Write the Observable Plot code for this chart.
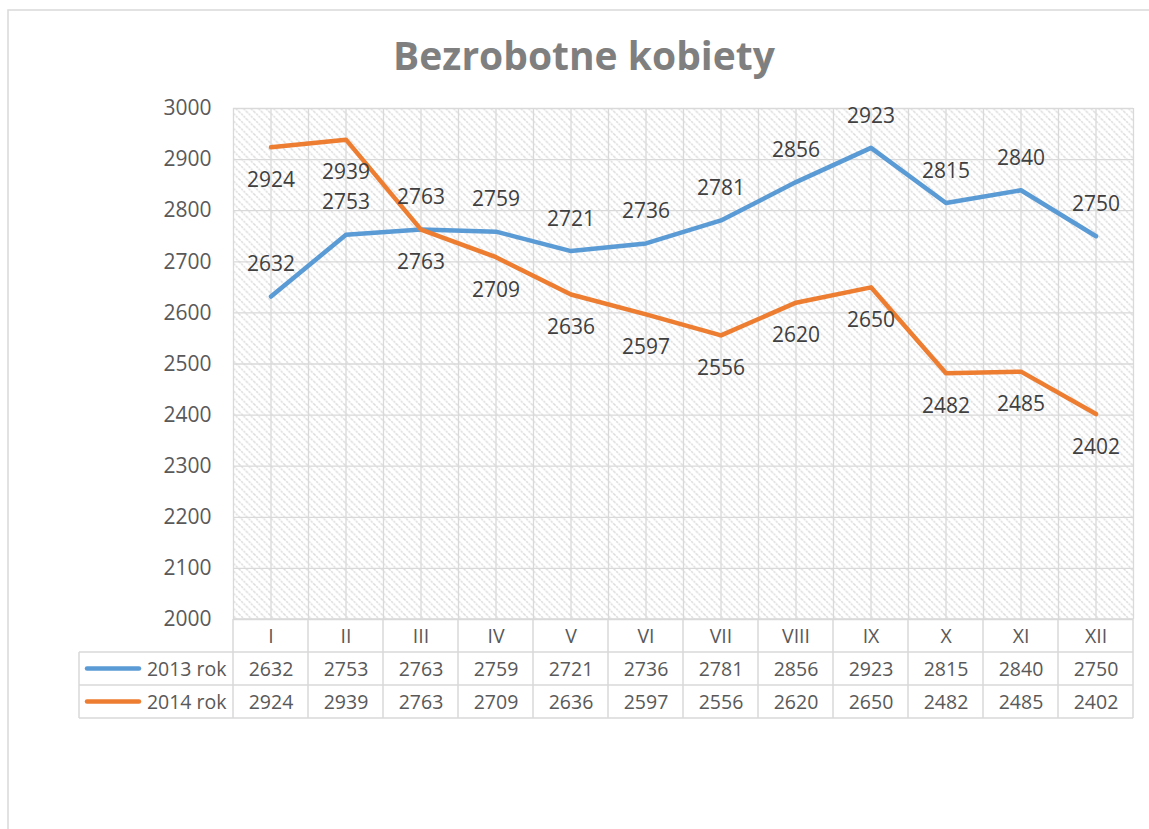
<!DOCTYPE html>
<html>
<head>
<meta charset="utf-8">
<script src="https://cdn.jsdelivr.net/npm/d3@7"></script>
<script src="https://cdn.jsdelivr.net/npm/@observablehq/plot@0.6"></script>
<style>
  html, body { margin: 0; padding: 0; background: #fff; }
  #chart { position: relative; width: 1149px; height: 829px; overflow: hidden; }
</style>
</head>
<body>
<div id="chart"></div>
<script>
const title = "Bezrobotne kobiety";
const months = ["I","II","III","IV","V","VI","VII","VIII","IX","X","XI","XII"];
const seriesNames = ["2013 rok", "2014 rok"];
const values2013 = [2632, 2753, 2763, 2759, 2721, 2736, 2781, 2856, 2923, 2815, 2840, 2750];
const values2014 = [2924, 2939, 2763, 2709, 2636, 2597, 2556, 2620, 2650, 2482, 2485, 2402];
const yTicks = [2000, 2100, 2200, 2300, 2400, 2500, 2600, 2700, 2800, 2900, 3000];
const colors = ["#5B9BD5", "#ED7D31"];

(function () {
const FONT = "'Open Sans', sans-serif";
const data2013 = months.map((m, i) => ({pos: i + 1, month: m, value: values2013[i]}));
const data2014 = months.map((m, i) => ({pos: i + 1, month: m, value: values2014[i]}));
// vertical gridlines at category boundaries and centres
const vGrid = [];
months.forEach((m, i) => { vGrid.push(i + 0.5); vGrid.push(i + 1); });
vGrid.push(months.length + 0.5);

const plot = Plot.plot({
  width: 1149,
  height: 829,
  marginLeft: 233,
  marginRight: 16,
  marginTop: 108,
  marginBottom: 210,
  style: {fontFamily: FONT, fontSize: "21px", color: "#595959", background: "transparent", overflow: "visible"},
  x: {domain: [0.5, months.length + 0.5], axis: null},
  y: {domain: [2000, 3000], ticks: yTicks, tickSize: 0, tickPadding: 22, tickFormat: d => String(d), label: null},
  marks: [
    Plot.ruleY(yTicks, {stroke: "#d9d9d9", strokeWidth: 1.3}),
    Plot.ruleX(vGrid, {stroke: "#d9d9d9", strokeWidth: 1.3}),
    Plot.line(data2013, {x: "pos", y: "value", stroke: colors[0], strokeWidth: 4.5, strokeLinejoin: "round", strokeLinecap: "round"}),
    Plot.line(data2014, {x: "pos", y: "value", stroke: colors[1], strokeWidth: 4.5, strokeLinejoin: "round", strokeLinecap: "round"}),
    Plot.text(data2013, {x: "pos", y: "value", text: d => String(d.value), dy: -32, fill: "#404040", fontSize: 21, lineAnchor: "middle"}),
    Plot.text(data2014, {x: "pos", y: "value", text: d => String(d.value), dy: 33, fill: "#404040", fontSize: 21, lineAnchor: "middle"}),
    // data table: header row
    Plot.text(data2013, {x: "pos", frameAnchor: "bottom", text: "month", dy: 17, fill: "#595959", fontSize: 19.5, lineAnchor: "middle"}),
    // data table: series rows
    Plot.text(data2013, {x: "pos", frameAnchor: "bottom", text: d => String(d.value), dy: 50, fill: "#595959", fontSize: 19.5, lineAnchor: "middle"}),
    Plot.text(data2014, {x: "pos", frameAnchor: "bottom", text: d => String(d.value), dy: 83, fill: "#595959", fontSize: 19.5, lineAnchor: "middle"}),
    Plot.text([seriesNames[0]], {frameAnchor: "bottom-left", text: d => d, dx: -7, dy: 50, textAnchor: "end", fill: "#595959", fontSize: 19.5, lineAnchor: "middle"}),
    Plot.text([seriesNames[1]], {frameAnchor: "bottom-left", text: d => d, dx: -7, dy: 83, textAnchor: "end", fill: "#595959", fontSize: 19.5, lineAnchor: "middle"})
  ]
});

const svg = d3.select(plot);
const xs = plot.scale("x");
const ys = plot.scale("y");
const pLeft = xs.apply(0.5), pRight = xs.apply(months.length + 0.5);
const pTop = ys.apply(3000), pBottom = ys.apply(2000);

// hatch background of plot area, and chart-area border
svg.insert("rect", ":first-child").attr("x", pLeft).attr("y", pTop).attr("width", pRight - pLeft).attr("height", pBottom - pTop)
  .attr("fill", "url(#hatch)");
svg.insert("rect", ":first-child").attr("x", 8).attr("y", 10).attr("width", 1160).attr("height", 840)
  .attr("fill", "none").attr("stroke", "#d9d9d9").attr("stroke-width", 1.5);
const defs = svg.insert("defs", ":first-child");
const P = 7.5;
const pat = defs.append("pattern").attr("id", "hatch").attr("patternUnits", "userSpaceOnUse")
  .attr("width", P).attr("height", P);
pat.append("rect").attr("width", P).attr("height", P).attr("fill", "#ffffff");
pat.append("path").attr("d", `M-1,-1 L${P + 1},${P + 1} M-1,${P - 1} L1,${P + 1} M${P - 1},-1 L${P + 1},1`)
  .attr("stroke", "#dadada").attr("stroke-width", 1.4).attr("stroke-dasharray", "2.2,1");

// data table lines
const rowH = 33;
const tbl = svg.append("g").attr("stroke", "#d9d9d9").attr("stroke-width", 1.5).attr("fill", "none");
const tableLeft = 79;
tbl.append("line").attr("x1", pLeft).attr("x2", pRight).attr("y1", pBottom).attr("y2", pBottom);
[1, 2, 3].forEach(r => {
  tbl.append("line").attr("x1", tableLeft).attr("x2", pRight).attr("y1", pBottom + r * rowH).attr("y2", pBottom + r * rowH);
});
tbl.append("line").attr("x1", tableLeft).attr("x2", tableLeft).attr("y1", pBottom + rowH).attr("y2", pBottom + 3 * rowH);
months.forEach((m, i) => {
  const x = xs.apply(i + 0.5);
  tbl.append("line").attr("x1", x).attr("x2", x).attr("y1", pBottom).attr("y2", pBottom + 3 * rowH);
});
tbl.append("line").attr("x1", pRight).attr("x2", pRight).attr("y1", pBottom).attr("y2", pBottom + 3 * rowH);

// legend keys in table
colors.forEach((c, k) => {
  const y = pBottom + rowH * (k + 1.5);
  svg.append("line").attr("x1", 87).attr("x2", 139).attr("y1", y).attr("y2", y)
    .attr("stroke", c).attr("stroke-width", 4.5).attr("stroke-linecap", "round");
});

// title
svg.append("text").attr("x", 584).attr("y", 70).attr("text-anchor", "middle")
  .attr("font-family", FONT).attr("font-weight", "bold").attr("font-size", 39)
  .attr("fill", "#7f7f7f").text(title);

document.getElementById("chart").appendChild(plot);
})();
</script>
</body>
</html>
